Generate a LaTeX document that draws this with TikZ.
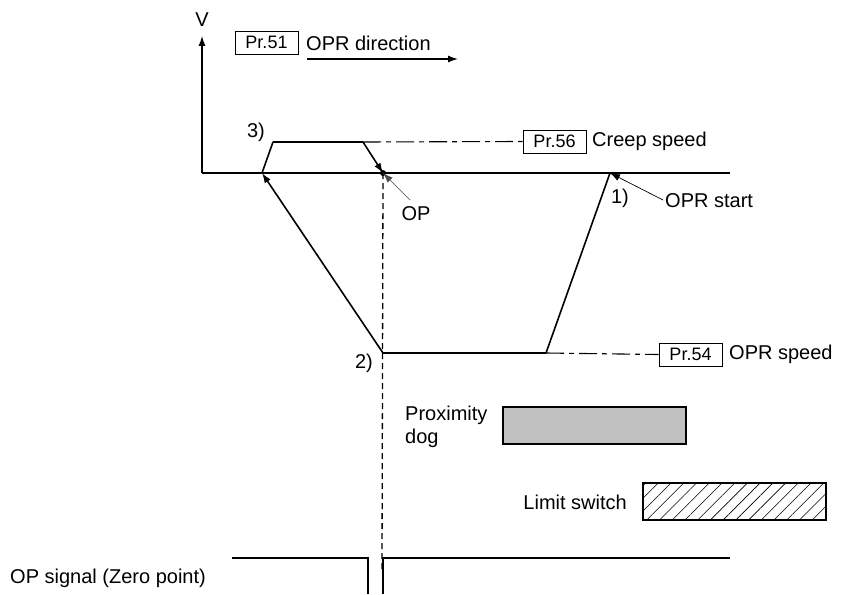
\documentclass[tikz,border=0pt]{standalone}
\usepackage{fontspec}
\setmainfont{Liberation Sans}
\usetikzlibrary{arrows.meta,patterns.meta}
\begin{document}
\begin{tikzpicture}[x=1pt,y=-1pt,
  lbl/.style={font=\fontsize{20}{23.5}\selectfont, inner sep=0pt},
  prbox/.style={draw, line width=0.7pt, font=\fontsize{18}{20}\selectfont, minimum width=63pt, minimum height=23pt, inner sep=0pt},
  axis/.style={line width=1.3pt},
  prof/.style={line width=2.2pt},
  slope/.style={line width=1.6pt},
  tip/.style={-{Latex[length=10pt,width=7pt]}},
  thin tip/.style={-{Latex[length=10pt,width=7pt]}, line width=0.7pt},
  dashdot/.style={line width=1.1pt, dash pattern=on 18pt off 5pt on 5pt off 5pt},
  vdash/.style={line width=1.3pt, dash pattern=on 6pt off 4pt},
  sig/.style={line width=2.2pt}
]
\useasboundingbox (0,0) rectangle (850,594);

% coordinates
\coordinate (O) at (202,173);
\coordinate (Vtop) at (202,36);
\coordinate (Hend) at (730,173);
\coordinate (A1) at (262,173);
\coordinate (A2) at (273,142);
\coordinate (A3) at (363,142);
\coordinate (OP) at (383,173);
\coordinate (P2) at (383,353);
\coordinate (P3) at (546,353);
\coordinate (P1) at (610,173);
\coordinate (DirS) at (307,59);
\coordinate (DirE) at (458,59);
\coordinate (OPtail) at (410,200);
\coordinate (Sttail) at (663,200);

% axes
\draw[axis] (O) -- (Hend);
\draw[axis, tip] (O) -- (Vtop);
\node[lbl] (V) at (202,20) {V};

% OPR direction
\node[prbox] (pr51) at (266.5,42.5) {Pr.51};
\node[lbl, anchor=west] (dir) at (306,43) {OPR direction};
\draw[line width=1.3pt, tip] (DirS) -- (DirE);

% creep speed
\node[prbox] (pr56) at (554.5,141.5) {Pr.56};
\node[lbl, anchor=west] (creep) at (592,141.5) {Creep speed};
\draw[dashdot] (A3) -- (pr56.west);

% OPR speed
\node[prbox] (pr54) at (690.5,354.5) {Pr.54};
\node[lbl, anchor=west] (oprspeed) at (729,354.5) {OPR speed};
\draw[dashdot] (P3) -- (pr54.west);

% dashed vertical
\draw[vdash] (OP) -- (382,570);

% speed profile
\draw[slope] (P3) -- (P1);
\draw[prof] (P2) -- (P3);
\draw[slope, tip] (P2) -- (A1);
\draw[slope, line join=round] (A1) -- (A2);
\draw[prof] (A2) -- (A3);
\draw[slope, tip] (A3) -- (OP);
\fill (OP) circle (3pt);

% labels
\node[lbl] (l1) at (620,198) {1)};
\node[lbl] (l2) at (364,363) {2)};
\node[lbl] (l3) at (256,132) {3)};
\node[lbl, anchor=west] (start) at (665,201) {OPR start};
\draw[thin tip] (Sttail) -- (P1);
\node[lbl] (oplbl) at (416,214) {OP};
\draw[thin tip, draw=black!70] (OPtail) -- (OP);

% proximity dog
\node[lbl, anchor=west, align=left] (dogtxt) at (405,427) {Proximity\\dog};
\node[draw, line width=1.1pt, fill={rgb,255:red,192;green,192;blue,192}, minimum width=183pt, minimum height=37pt, inner sep=0pt] (dog) at (594.5,425.5) {};

% limit switch
\node[lbl, anchor=east] (lstxt) at (627,502) {Limit switch};
\node[draw, line width=1.1pt, pattern={Lines[angle=45,distance=9pt,line width=0.6pt]}, minimum width=183pt, minimum height=37pt, inner sep=0pt] (ls) at (734.5,501.5) {};

% OP signal
\node[lbl, anchor=west] (sigtxt) at (10,578) {OP signal (Zero point)};
\draw[sig] (232,558) -- (368,558) -- (368,594);
\draw[sig] (383,594) -- (383,558) -- (730,558);
\end{tikzpicture}
\end{document}
